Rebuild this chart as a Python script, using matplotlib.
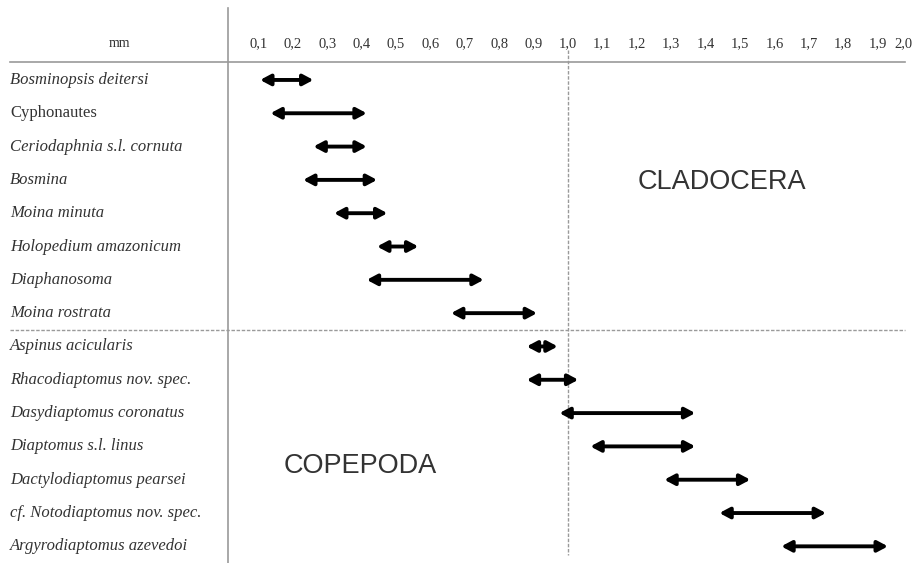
import matplotlib
matplotlib.use("Agg")
import matplotlib.pyplot as plt

species = ["Bosminopsis deitersi", "Cyphonautes", "Ceriodaphnia s.l. cornuta", "Bosmina",
           "Moina minuta", "Holopedium amazonicum", "Diaphanosoma", "Moina rostrata",
           "Aspinus acicularis", "Rhacodiaptomus nov. spec.", "Dasydiaptomus coronatus",
           "Diaptomus s.l. linus", "Dactylodiaptomus pearsei", "cf. Notodiaptomus nov. spec.",
           "Argyrodiaptomus azevedoi"]
italic = [True, False, True, True, True, True, True, True,
          True, True, True, True, True, True, True]
size_min = [0.105, 0.135, 0.26, 0.23, 0.32, 0.445, 0.415, 0.66,
            0.88, 0.88, 0.975, 1.065, 1.28, 1.44, 1.62]
size_max = [0.26, 0.415, 0.415, 0.445, 0.475, 0.565, 0.755, 0.91,
            0.97, 1.03, 1.37, 1.37, 1.53, 1.75, 1.93]
tick_values = [0.1, 0.2, 0.3, 0.4, 0.5, 0.6, 0.7, 0.8, 0.9, 1.0,
               1.1, 1.2, 1.3, 1.4, 1.5, 1.6, 1.7, 1.8, 1.9, 2.0]
tick_labels = ["0,1", "0,2", "0,3", "0,4", "0,5", "0,6", "0,7", "0,8", "0,9", "1,0",
               "1,1", "1,2", "1,3", "1,4", "1,5", "1,6", "1,7", "1,8", "1,9", "2,0"]
n_cladocera = 8

fig = plt.figure(figsize=(9.13, 5.63), dpi=100)
ax = fig.add_axes([0, 0, 1, 1])
px = 344.0
x0 = 224.0
ax.set_xlim(-x0 / px, (913 - x0) / px)
ax.set_ylim(14.5, -2.4)
ax.axis("off")

grey = "#9a9a9a"
txt = "#333333"
serif = ["Liberation Serif", "DejaVu Serif"]

# frame lines
ax.plot([0.012, 0.012], [-2.16, 14.5], color=grey, lw=1.2)
ax.plot([-0.622, 1.98], [-0.54, -0.54], color=grey, lw=1.2)
ax.plot([-0.622, 1.98], [n_cladocera - 0.5, n_cladocera - 0.5], color=grey, lw=1.0,
        ls=(0, (2.5, 1.2)))
ax.plot([1.0, 1.0], [-0.9, 14.25], color=grey, lw=1.0, ls=(0, (2.5, 1.2)))

# header
ax.text(-0.305, -1.08, "mm", ha="center", va="center", fontsize=10,
        family=serif, color=txt)
for v, lab in zip(tick_values, tick_labels):
    ha = "right" if v == tick_values[-1] else "center"
    ax.text(v, -1.08, lab, ha=ha, va="center", fontsize=10.5, family=serif, color=txt)

# rows
for i, (name, it, lo, hi) in enumerate(zip(species, italic, size_min, size_max)):
    ax.text(-0.622, i, name, ha="left", va="center", fontsize=12, family=serif,
            style="italic" if it else "normal", color=txt)
    ax.annotate("", xy=(hi, i), xytext=(lo, i),
                arrowprops=dict(arrowstyle="<|-|>,head_length=0.6,head_width=0.32",
                                color="black", lw=2.8, shrinkA=0, shrinkB=0,
                                mutation_scale=10))

ax.text(1.448, 3.06, "CLADOCERA", ha="center", va="center", fontsize=19.5,
        family=["Liberation Sans", "DejaVu Sans"], color=txt)
ax.text(0.395, 11.6, "COPEPODA", ha="center", va="center", fontsize=19.5,
        family=["Liberation Sans", "DejaVu Sans"], color=txt)

fig.savefig("out.png", dpi=100)
